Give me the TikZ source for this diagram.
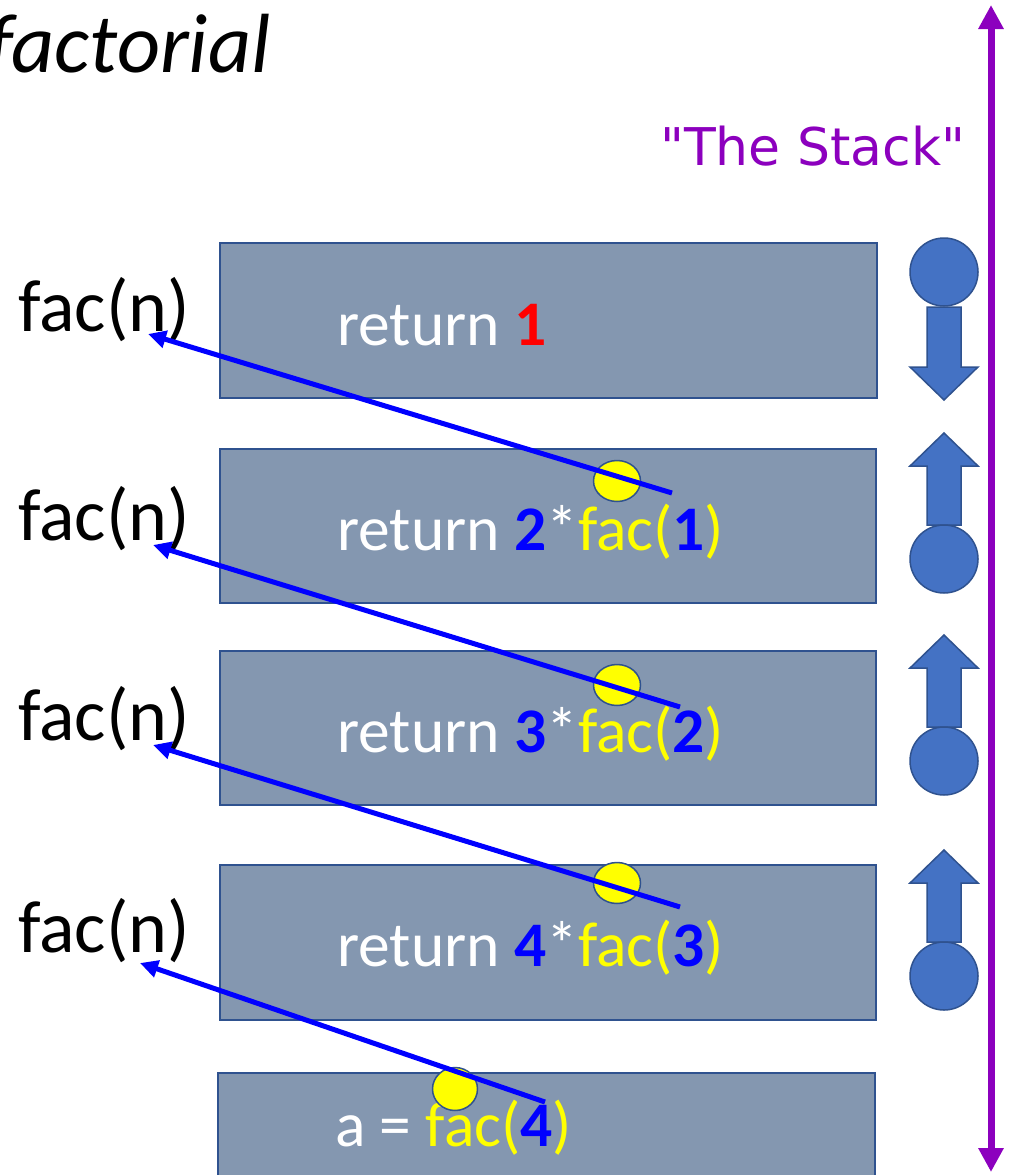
\documentclass[tikz,border=0pt]{standalone}
\usepackage{fontspec}
\setmainfont{Carlito}
\newfontfamily\stackfont{DejaVu Sans}
\usetikzlibrary{arrows.meta,shapes.geometric}

\definecolor{framefill}{RGB}{132,151,176}
\definecolor{frameedge}{RGB}{47,82,143}
\definecolor{shapeblue}{RGB}{68,114,196}
\definecolor{stackpurple}{RGB}{140,0,190}
\definecolor{callblue}{RGB}{0,0,255}
\definecolor{callyellow}{RGB}{255,255,0}
\definecolor{retred}{RGB}{255,0,0}

\newcommand{\nb}[1]{\textbf{\textcolor{callblue}{#1}}}
\newcommand{\yc}[1]{\textcolor{callyellow}{#1}}

\tikzset{
  frame/.style={rectangle, draw=frameedge, fill=framefill, line width=1.6pt,
    minimum width=656pt, minimum height=154pt, inner sep=0pt},
  codetext/.style={anchor=base west, inner sep=0pt, text=white,
    font=\fontsize{63.5}{70}\selectfont},
  calllabel/.style={anchor=base west, inner sep=0pt, text=black,
    font=\fontsize{74}{80}\selectfont},
  callspot/.style={ellipse, draw=frameedge, fill=callyellow, line width=1.5pt,
    minimum width=47pt, minimum height=41pt, inner sep=0pt},
  returnarrow/.style={draw=callblue, line width=5pt,
    -{Triangle[length=18pt,width=17pt]}},
  stackshape/.style={fill=shapeblue, draw=frameedge, line width=1.5pt},
  stackdot/.style={circle, fill=shapeblue, draw=frameedge, line width=1.5pt,
    minimum size=68pt, inner sep=0pt},
  stackline/.style={draw=stackpurple, line width=7pt,
    {Triangle[length=24pt,width=24pt]}-{Triangle[length=24pt,width=24pt]}},
}

\begin{document}
\begin{tikzpicture}[x=1pt, y=-1pt]
  \clip (0,0) rectangle (1011,1175);
  \fill[white] (0,0) rectangle (1011,1175);

  % title, running off the left edge
  \node[anchor=base west, inner sep=0pt, font=\fontsize{84}{90}\selectfont\itshape]
    (title) at (-13,72) {factorial};

  % stack label and axis
  \node[anchor=base west, inner sep=0pt, text=stackpurple,
    font=\stackfont\fontsize{52}{60}\selectfont] (stacklabel) at (660,165) {"The Stack"};
  \coordinate (stacktop) at (991,5);
  \coordinate (stackbottom) at (991,1172);
  \draw[stackline] (stacktop) -- (stackbottom);

  % stack frames
  \node[frame, minimum width=657pt, minimum height=155pt] (f1) at (548.5,320.5) {};
  \node[frame] (f2) at (548,526) {};
  \node[frame] (f3) at (548,728) {};
  \node[frame, minimum height=155pt] (f4) at (548,942.5) {};
  \node[frame, minimum width=657pt, minimum height=112pt] (f5) at (546.5,1129) {};

  % frame contents
  \node[codetext] (c1) at (337,345) {return \textbf{\textcolor{retred}{1}}};
  \node[codetext] (c2) at (337,550) {return \nb{2}*\yc{fac(}\nb{1}\yc{)}};
  \node[codetext] (c3) at (337,752) {return \nb{3}*\yc{fac(}\nb{2}\yc{)}};
  \node[codetext] (c4) at (337,966) {return \nb{4}*\yc{fac(}\nb{3}\yc{)}};
  \node[codetext] (c5) at (335,1146) {a = \yc{fac(}\nb{4}\yc{)}};

  % call labels
  \node[calllabel] (l1) at (18,331) {fac(n)};
  \node[calllabel] (l2) at (18,540) {fac(n)};
  \node[calllabel] (l3) at (18,740) {fac(n)};
  \node[calllabel] (l4) at (18,952) {fac(n)};

  % call sites
  \node[callspot] (s1) at (617,481) {};
  \node[callspot] (s2) at (617,685) {};
  \node[callspot] (s3) at (617,883) {};
  \node[callspot, minimum width=45pt, minimum height=43pt] (s4) at (455,1089) {};

  % return arrows
  \coordinate (r1from) at (672,493);
  \coordinate (r1to) at (148,334);
  \coordinate (r2from) at (680,707);
  \coordinate (r2to) at (153,545);
  \coordinate (r3from) at (680,907);
  \coordinate (r3to) at (153,745);
  \coordinate (r4from) at (545,1102);
  \coordinate (r4to) at (140,963);
  \draw[returnarrow] (r1from) -- (r1to);
  \draw[returnarrow] (r2from) -- (r2to);
  \draw[returnarrow] (r3from) -- (r3to);
  \draw[returnarrow] (r4from) -- (r4to);

  % push / pop markers
  \path[stackshape] (927,307) -- (961,307) -- (961,367) -- (978,367) -- (944,400)
    -- (910,367) -- (927,367) -- cycle;
  \node[stackdot] (d1) at (944,272) {};
  \foreach \t/\n in {433/2, 635/3, 850/4} {
    \path[stackshape] (944,\t) -- (978,\t+33) -- (961,\t+33) -- (961,\t+92)
      -- (927,\t+92) -- (927,\t+33) -- (910,\t+33) -- cycle;
    \node[stackdot] (d\n) at (944,\t+126) {};
  }
\end{tikzpicture}
\end{document}
